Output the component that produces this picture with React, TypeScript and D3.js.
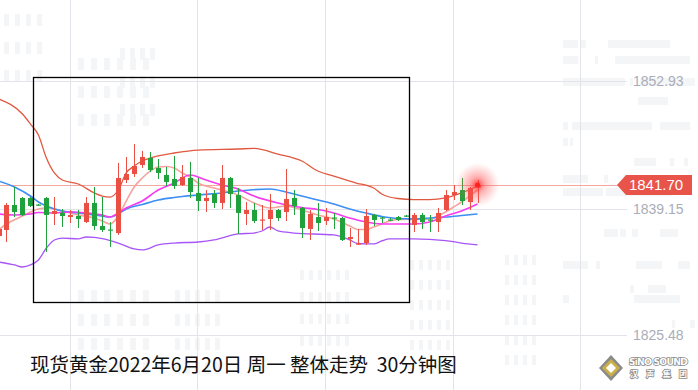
import React from "react";
import * as d3 from "d3";

// 30分钟K线（开高低收）
const opens = [1836.18, 1836.83, 1839.53, 1840.29, 1840.29, 1839.58, 1840.29, 1838.56, 1838.67, 1838.23, 1838.34, 1837.69, 1839.75, 1837.26, 1836.88, 1836.5, 1842.23, 1842.88, 1843.85, 1844.61, 1843.53, 1842.77, 1842.34, 1841.69, 1842.45, 1840.83, 1839.96, 1840.72, 1839.75, 1842.45, 1840.61, 1838.56, 1838.99, 1837.85, 1838.02, 1838.99, 1838.77, 1840.29, 1839.21, 1836.94, 1838.23, 1837.8, 1838.18, 1838.12, 1835.86, 1835.26, 1835.42, 1838.45, 1838.18, 1837.96, 1838.23, 1838.39, 1837.37, 1838.45, 1837.96, 1837.69, 1838.99, 1840.61, 1841.15, 1839.85, 1841.42];
const highs = [1837.26, 1839.75, 1841.48, 1840.39, 1840.39, 1839.64, 1840.39, 1840.39, 1839.1, 1838.99, 1838.99, 1840.39, 1841.48, 1840.39, 1837.69, 1844.07, 1844.72, 1846.12, 1845.37, 1845.26, 1844.5, 1843.64, 1844.83, 1843.85, 1844.18, 1842.45, 1841.15, 1841.15, 1843.85, 1842.56, 1841.37, 1839.85, 1839.75, 1839.53, 1840.72, 1839.1, 1843.42, 1841.15, 1839.31, 1838.99, 1839.75, 1839.21, 1838.67, 1838.23, 1837.04, 1836.94, 1839.1, 1838.56, 1838.23, 1838.12, 1838.34, 1838.45, 1838.67, 1838.67, 1838.45, 1839.21, 1841.15, 1841.69, 1842.45, 1841.48, 1842.23];
const lows = [1835.96, 1835.53, 1838.23, 1838.34, 1839.31, 1839.42, 1834.45, 1837.37, 1837.15, 1837.58, 1837.04, 1837.58, 1836.83, 1836.61, 1834.99, 1836.29, 1841.91, 1842.56, 1843.53, 1843.1, 1842.34, 1841.58, 1841.26, 1841.58, 1840.29, 1838.88, 1838.77, 1839.21, 1839.1, 1839.21, 1836.4, 1837.37, 1837.58, 1836.83, 1836.83, 1837.8, 1837.8, 1838.45, 1835.96, 1835.75, 1836.72, 1837.37, 1836.94, 1835.64, 1834.99, 1835.21, 1835.21, 1837.26, 1837.58, 1837.8, 1837.8, 1838.23, 1836.61, 1836.94, 1836.61, 1836.61, 1838.88, 1840.07, 1839.53, 1838.99, 1839.75];
const closes = [1836.94, 1839.53, 1838.77, 1838.45, 1839.42, 1839.48, 1838.45, 1838.88, 1838.34, 1838.45, 1838.02, 1839.75, 1837.26, 1836.83, 1836.77, 1842.45, 1842.88, 1843.74, 1844.72, 1843.31, 1842.99, 1842.02, 1841.58, 1842.56, 1840.93, 1839.96, 1840.29, 1839.75, 1842.45, 1840.72, 1838.67, 1838.99, 1837.8, 1837.96, 1838.99, 1838.12, 1840.18, 1839.42, 1837.04, 1838.56, 1837.58, 1838.23, 1838.07, 1835.75, 1836.07, 1835.37, 1838.34, 1837.91, 1838.07, 1837.85, 1837.91, 1838.29, 1838.45, 1837.69, 1837.85, 1838.67, 1840.61, 1840.93, 1839.96, 1841.37, 1841.7];

// 指标线 [K线序号, 价格]
const bollUpper = [[0, 1850.99], [3, 1849.36], [4, 1848.28], [5, 1847.09], [6, 1844.61], [7, 1842.99], [8, 1842.23], [10, 1841.8], [12, 1840.83], [13, 1840.5], [14, 1840.39], [15, 1841.15], [16, 1842.99], [17, 1843.74], [18, 1844.28], [20, 1844.83], [22, 1845.15], [25, 1845.47], [30, 1845.58], [32, 1845.64], [35, 1845.04], [38, 1844.28], [40, 1843.2], [42, 1842.66], [44, 1842.12], [45, 1841.85], [46, 1841.69], [47, 1841.37], [48, 1840.72], [50, 1840.23], [52, 1840.12], [54, 1840.12], [56, 1840.29], [58, 1840.83], [60, 1841.58]];
const bollLower = [[0, 1833.37], [2, 1833.05], [3, 1832.83], [4, 1833.05], [5, 1833.59], [6, 1834.88], [7, 1835.75], [8, 1835.96], [10, 1835.86], [11, 1836.07], [12, 1836.02], [15, 1835.42], [17, 1834.78], [18, 1834.67], [20, 1835.21], [22, 1835.42], [25, 1835.53], [27, 1835.75], [30, 1836.4], [32, 1836.5], [33, 1836.72], [34, 1837.15], [35, 1836.72], [37, 1836.5], [42, 1836.29], [44, 1835.75], [45, 1835.37], [46, 1835.32], [47, 1835.32], [48, 1835.64], [49, 1835.86], [52, 1835.86], [56, 1835.69], [58, 1835.42], [60, 1835.21]];
const maBlue = [[0, 1842.12], [2, 1841.48], [4, 1840.5], [5, 1839.85], [6, 1839.42], [8, 1838.88], [10, 1838.67], [12, 1838.45], [14, 1838.23], [15, 1838.56], [16, 1839.1], [18, 1839.58], [20, 1840.07], [22, 1840.34], [25, 1840.61], [28, 1840.83], [30, 1841.04], [34, 1841.26], [36, 1840.94], [38, 1840.5], [40, 1840.07], [42, 1839.64], [44, 1839.1], [46, 1838.67], [48, 1838.29], [50, 1838.07], [52, 1838.02], [54, 1838.12], [56, 1838.23], [58, 1838.39], [60, 1838.56]];
const maMagenta = [[0, 1838.56], [2, 1838.45], [4, 1838.56], [5, 1838.72], [7, 1838.67], [9, 1838.77], [11, 1838.67], [13, 1838.45], [14, 1838.23], [15, 1838.67], [16, 1839.21], [18, 1839.96], [20, 1841.15], [22, 1841.91], [24, 1842.77], [26, 1842.23], [28, 1841.69], [30, 1841.26], [32, 1840.5], [35, 1839.75], [38, 1839.26], [40, 1839.04], [42, 1838.67], [44, 1838.12], [46, 1837.69], [48, 1837.48], [50, 1837.48], [52, 1837.48], [54, 1837.69], [56, 1838.34], [58, 1838.88], [60, 1839.64]];
const maSalmon = [[0, 1836.83], [1, 1837.48], [3, 1838.34], [5, 1839.1], [6, 1839.21], [8, 1838.88], [10, 1838.45], [12, 1838.12], [13, 1837.8], [14, 1837.48], [15, 1838.34], [16, 1839.96], [17, 1841.48], [18, 1842.45], [19, 1843.2], [20, 1843.64], [21, 1843.69], [22, 1843.53], [23, 1842.99], [24, 1842.56], [25, 1841.91], [27, 1841.37], [30, 1840.61], [32, 1839.75], [34, 1839.21], [36, 1839.42], [38, 1838.99], [40, 1838.45], [42, 1838.02], [44, 1837.26], [45, 1836.88], [46, 1836.88], [47, 1837.15], [48, 1837.48], [49, 1837.8], [50, 1837.96], [54, 1838.02], [55, 1838.34], [56, 1838.77], [57, 1839.31], [58, 1839.85], [59, 1840.5], [60, 1841.15]];

// 价格刻度
const priceTicks = [1852.93, 1839.15, 1825.48];
// 竖向网格（以K线序号计）
const timeGrid = [8.9, 24.9, 40.9, 56.9, 72.9];
// 黑框标注范围
const boxIdx = [4.26, 51.36];
const boxPrice = [1853.36, 1829.05];

const titleText = "现货黄金2022年6月20日 周一 整体走势\u00a0\u00a030分钟图";

const W = 698;
const H = 390;
const RED = "#eb4f44";
const GREEN = "#1fa23b";

// 背景楼房水印（装饰）
const deco = [
  { x: 4, y: 14, cols: 4, rows: 3, w: 5, h: 12, gx: 11, gy: 28 },
  { x: 78, y: 58, cols: 6, rows: 3, w: 6, h: 12, gx: 13, gy: 28 },
  { x: 120, y: 48, cols: 4, rows: 3, w: 5, h: 12, gx: 10, gy: 28 },
  { x: 78, y: 290, cols: 6, rows: 4, w: 6, h: 12, gx: 13, gy: 24 },
  { x: 175, y: 290, cols: 5, rows: 4, w: 5, h: 12, gx: 10, gy: 24 },
  { x: 300, y: 270, cols: 6, rows: 5, w: 4, h: 10, gx: 9, gy: 22 },
  { x: 410, y: 260, cols: 5, rows: 6, w: 4, h: 10, gx: 9, gy: 20 },
  { x: 505, y: 255, cols: 4, rows: 6, w: 4, h: 10, gx: 9, gy: 20 },
];
const decoBars = [
  [563, 40, 15], [580, 40, 6], [608, 40, 60], [662, 40, 8],
  [563, 56, 15], [595, 56, 3], [615, 56, 75],
  [563, 78, 62], [630, 78, 3], [640, 78, 55],
  [638, 97, 30],
  [563, 122, 5], [572, 122, 80], [660, 122, 30],
  [563, 138, 5], [570, 138, 3],
  [634, 158, 22], [670, 158, 4], [684, 158, 4],
  [563, 175, 25], [604, 175, 4],
  [563, 188, 40], [606, 188, 66],
  [604, 229, 14], [620, 229, 6], [632, 229, 6], [660, 229, 18],
  [563, 261, 25], [596, 261, 4], [636, 261, 26], [678, 261, 12],
  [630, 285, 4], [648, 285, 18],
  [563, 295, 6], [634, 295, 46],
  [672, 320, 3], [690, 320, 5],
];

const App = () => {
  const x = d3.scaleLinear().domain([0, 60]).range([-1.5, 477.5]);
  const y = d3.scaleLinear().domain([1825.48, 1852.93]).range([335, 81]);
  const bodyW = 5;

  const line = d3
    .line<number[]>()
    .x((d) => x(d[0]))
    .y((d) => y(d[1]))
    .curve(d3.curveMonotoneX);

  const last = closes[closes.length - 1];
  const lastX = x(closes.length - 1);
  const lastY = y(last);
  const tagY = Math.round(lastY);

  return (
    <div style={{ position: "fixed", left: 0, top: 0, width: W, height: H, background: "#fff" }}>
      <svg width={W} height={H} style={{ display: "block" }}>
        <defs>
          <radialGradient id="glow">
            <stop offset="0" stopColor="#ff2a2a" stopOpacity="0.9" />
            <stop offset="0.35" stopColor="#ff4a4a" stopOpacity="0.45" />
            <stop offset="1" stopColor="#ff7070" stopOpacity="0" />
          </radialGradient>
        </defs>
        <rect width={W} height={H} fill="#fff" />

        {/* 背景水印 */}
        <g fill="#f4f5f7">
          {deco.map((b, k) =>
            d3.range(b.rows).map((r) =>
              d3.range(b.cols).map((c) => (
                <rect key={`${k}-${r}-${c}`} x={b.x + c * b.gx} y={b.y + r * b.gy} width={b.w} height={b.h} />
              ))
            )
          )}
          {decoBars.map((b, k) => (
            <rect key={"bar" + k} x={b[0]} y={b[1]} width={b[2]} height={8} />
          ))}
        </g>

        {/* 网格 */}
        <g stroke="#e3e4e9" strokeWidth={1}>
          {timeGrid.map((t) => (
            <line key={t} x1={Math.round(x(t)) + 0.5} x2={Math.round(x(t)) + 0.5} y1={0} y2={H} />
          ))}
          {priceTicks.map((p) => (
            <line key={p} x1={0} x2={627} y1={Math.round(y(p)) + 0.5} y2={Math.round(y(p)) + 0.5} />
          ))}
        </g>
        <g fill="#a9adb9" fontFamily="'Liberation Sans', Arial, sans-serif" fontSize={14}>
          {priceTicks.map((p) => (
            <text key={p} x={633} y={y(p)} dy="0.36em">
              {p.toFixed(2)}
            </text>
          ))}
        </g>

        {/* 当前价横线 */}
        <line x1={0} x2={618} y1={tagY + 0.5} y2={tagY + 0.5} stroke="#f3a7a1" strokeWidth={1} />

        {/* 布林带与均线 */}
        <g fill="none" strokeWidth={1.3}>
          <path d={line(bollUpper as number[][]) || ""} stroke="#e0583f" />
          <path d={line(bollLower as number[][]) || ""} stroke="#a855f7" />
          <path d={line(maSalmon as number[][]) || ""} stroke="#f6a39c" strokeWidth={1.6} />
          <path d={line(maBlue as number[][]) || ""} stroke="#3d8ef5" strokeWidth={1.6} />
          <path d={line(maMagenta as number[][]) || ""} stroke="#f53cf0" strokeWidth={1.6} />
        </g>

        {/* K线 */}
        <g>
          {closes.map((c, i) => {
            const o = opens[i];
            const up = c >= o;
            const col = up ? RED : GREEN;
            const cx = Math.round(x(i));
            const top = y(Math.max(o, c));
            const bot = y(Math.min(o, c));
            return (
              <g key={i}>
                <line x1={cx + 0.5} x2={cx + 0.5} y1={y(highs[i])} y2={y(lows[i])} stroke={col} strokeWidth={1} />
                <rect x={cx - 2} y={top} width={bodyW} height={Math.max(1.2, bot - top)} fill={col} />
              </g>
            );
          })}
        </g>

        {/* 最新价光晕 */}
        <circle cx={lastX} cy={lastY} r={22} fill="url(#glow)" />
        <circle cx={lastX} cy={lastY} r={2.5} fill="#ff2020" />

        {/* 最新价标签 */}
        <path
          d={`M617,${tagY} L626,${tagY - 10} L692,${tagY - 10} L692,${tagY + 10} L626,${tagY + 10} Z`}
          fill="#e8534a"
        />
        <text
          x={656}
          y={tagY}
          dy="0.36em"
          textAnchor="middle"
          fill="#fff"
          fontFamily="'Liberation Sans', Arial, sans-serif"
          fontSize={15}
        >
          {last.toFixed(2)}
        </text>

        {/* 黑框标注 */}
        <rect
          x={Math.round(x(boxIdx[0])) + 0.5}
          y={Math.round(y(boxPrice[0])) + 0.5}
          width={Math.round(x(boxIdx[1]) - x(boxIdx[0]))}
          height={Math.round(y(boxPrice[1]) - y(boxPrice[0]))}
          fill="none"
          stroke="#000"
          strokeWidth={1.3}
        />

        {/* 标题 */}
        <text
          x={30}
          y={372}
          fill="#111"
          fontFamily="'Noto Sans CJK SC', sans-serif"
          fontSize={19.5}
        >
          {titleText}
        </text>

        {/* 汉声集团 标志 */}
        <g transform="translate(611,368)">
          <path d="M0,-13 L12,0 L0,13 L-12,0 Z" fill="#8a8a8a" />
          <path d="M0,-9 L9,0 L0,9 L-9,0 Z" fill="#c9b04a" />
          <path d="M0,-5 L5,0 L0,5 L-5,0 Z" fill="#fff" />
        </g>
        <g fontFamily="'DejaVu Sans', sans-serif" fontWeight="bold" fill="#fff" stroke="#8b8b8b" strokeWidth={1.6} style={{ paintOrder: "stroke" }}>
          <text x={629} y={365} fontSize={9.5} textLength={59}>
            SiNO SOUND
          </text>
          <text x={630} y={377} fontSize={8} fontFamily="'Noto Sans CJK SC', sans-serif" textLength={57}>
            汉 声 集 团
          </text>
        </g>
      </svg>
    </div>
  );
};

export default App;
